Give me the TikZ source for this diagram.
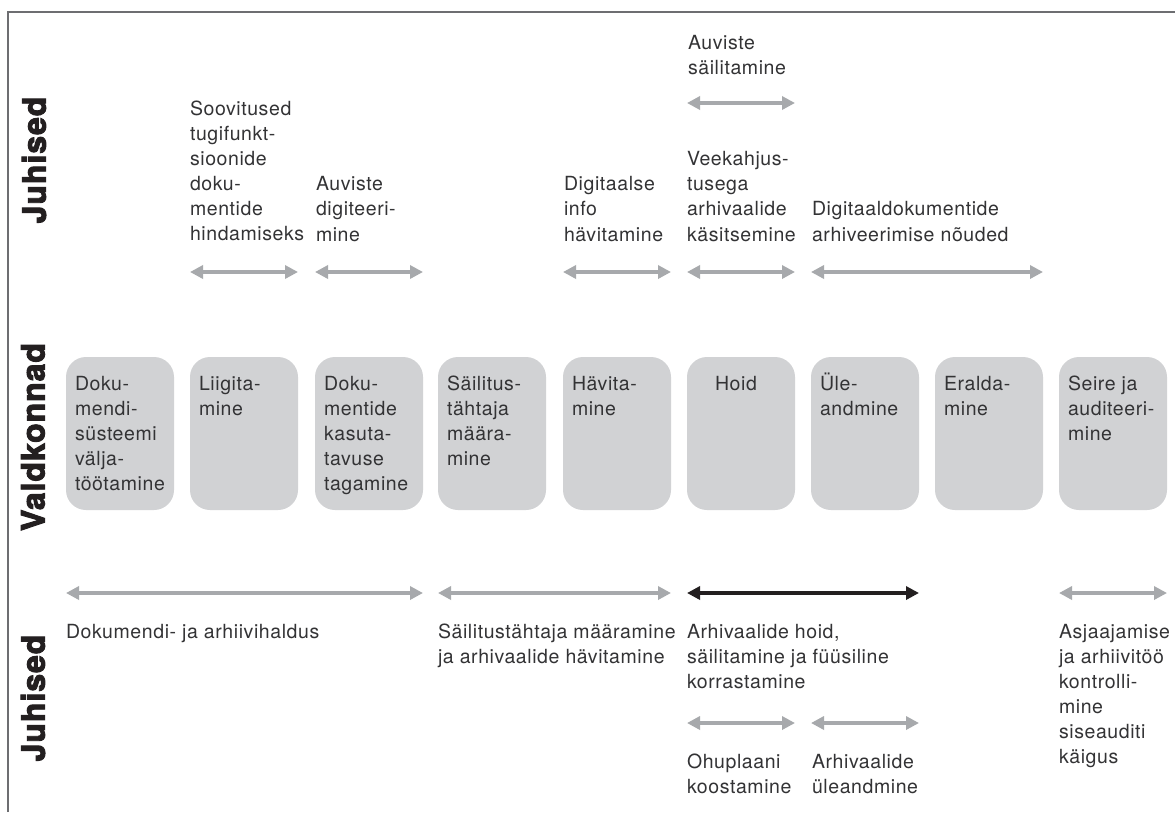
\documentclass[tikz,border=0pt]{standalone}
\usepackage{fontspec}
\setmainfont{TeX Gyre Heros}[LetterSpace=3]
\newfontfamily\sidefont{TeX Gyre Heros}[BoldFeatures={FakeBold=3}, LetterSpace=3]
\usetikzlibrary{arrows.meta,calc}
\definecolor{boxgray}{HTML}{D1D2D4}
\definecolor{arrgray}{HTML}{A7A9AC}
\definecolor{ink}{HTML}{231F20}
\definecolor{txt}{HTML}{333335}
\definecolor{framegray}{HTML}{6D6E71}
\newcommand{\mlines}[1]{\begin{tabular}[t]{@{}l@{}}#1\end{tabular}}
\begin{document}
\begin{tikzpicture}[x=1pt,y=-1pt,
  every node/.style={inner sep=0pt,outer sep=0pt},
  area/.style={fill=boxgray,rounded corners=20pt,minimum width=108pt,minimum height=153pt,anchor=north west},
  lbl/.style={anchor=base west,text=txt,font=\fontsize{19.5}{25.1}\selectfont},
  side/.style={rotate=90,text=ink,font=\fontsize{32}{32}\selectfont\sidefont\bfseries},
  garrow/.style={draw=arrgray,line width=3.5pt,{Triangle[length=13pt,width=13pt]}-{Triangle[length=13pt,width=13pt]}},
  karrow/.style={garrow,draw=ink},
]
\useasboundingbox (0,0) rectangle (1175,812);
\fill[white] (0,0) rectangle (1175,812);
\draw[framegray,line width=1.5pt] (8,812) -- (8,12) -- (1175,12);

% side labels
\node[side] (sj1) at (34,160) {Juhised};
\node[side] (sv) at (33,437) {Valdkonnad};
\node[side] (sj2) at (33,698) {Juhised};

% row coordinates
\coordinate (rowS) at (0,103);
\coordinate (rowA) at (0,272);
\coordinate (rowB) at (0,593);
\coordinate (rowC) at (0,723);

% boxes
\node[area] (b1) at (66,357) {};
\node[area] (b2) at (190,357) {};
\node[area] (b3) at (315,357) {};
\node[area] (b4) at (438,357) {};
\node[area] (b5) at (563,357) {};
\node[area] (b6) at (687,357) {};
\node[area] (b7) at (811,357) {};
\node[area] (b8) at (935,357) {};
\node[area] (b9) at (1059,357) {};

\node[lbl] (t1) at ($(b1.north west)+(9,33)$) {\mlines{Doku-\\mendi-\\süsteemi\\välja-\\töötamine}};
\node[lbl] (t2) at ($(b2.north west)+(9,33)$) {\mlines{Liigita-\\mine}};
\node[lbl] (t3) at ($(b3.north west)+(9,33)$) {\mlines{Doku-\\mentide\\kasuta-\\tavuse\\tagamine}};
\node[lbl] (t4) at ($(b4.north west)+(9,33)$) {\mlines{Säilitus-\\tähtaja\\määra-\\mine}};
\node[lbl] (t5) at ($(b5.north west)+(9,33)$) {\mlines{Hävita-\\mine}};
\node[lbl] (t6) at ($(b6.north west)+(28,33)$) {Hoid};
\node[lbl] (t7) at ($(b7.north west)+(9,33)$) {\mlines{Üle-\\andmine}};
\node[lbl] (t8) at ($(b8.north west)+(9,33)$) {\mlines{Eralda-\\mine}};
\node[lbl] (t9) at ($(b9.north west)+(9,33)$) {\mlines{Seire ja\\auditeeri-\\mine}};

% top guideline texts
\node[lbl] (g0) at (688,49) {\mlines{Auviste\\säilitamine}};
\node[lbl] (g1) at (190,115) {\mlines{Soovitused\\tugifunkt-\\sioonide\\doku-\\mentide\\hindamiseks}};
\node[lbl] (g2) at (316,190.8) {\mlines{Auviste\\digiteeri-\\mine}};
\node[lbl] (g3) at (564,190.8) {\mlines{Digitaalse\\info\\hävitamine}};
\node[lbl] (g4) at (687,165.7) {\mlines{Veekahjus-\\tusega\\arhivaalide\\käsitsemine}};
\node[lbl] (g5) at (812,215.9) {\mlines{Digitaaldokumentide\\arhiveerimise nõuded}};

% top arrows
\draw[garrow] (b6.west |- rowS) -- (b6.east |- rowS);
\draw[garrow] (b2.west |- rowA) -- (b2.east |- rowA);
\draw[garrow] (b3.west |- rowA) -- (b3.east |- rowA);
\draw[garrow] (b5.west |- rowA) -- (b5.east |- rowA);
\draw[garrow] (b6.west |- rowA) -- (b6.east |- rowA);
\draw[garrow] (b7.west |- rowA) -- (b8.east |- rowA);

% bottom arrows
\draw[garrow] (b1.west |- rowB) -- (b3.east |- rowB);
\draw[garrow] (b4.west |- rowB) -- (b5.east |- rowB);
\draw[karrow] (b6.west |- rowB) -- (b7.east |- rowB);
\draw[garrow] (b9.west |- rowB) -- (b9.east |- rowB);
\draw[garrow] (b6.west |- rowC) -- (b6.east |- rowC);
\draw[garrow] (b7.west |- rowC) -- (b7.east |- rowC);

% bottom guideline texts
\node[lbl] (h1) at (66,638) {Dokumendi- ja arhiivihaldus};
\node[lbl] (h2) at (438,638) {\mlines{Säilitustähtaja määramine\\ja arhivaalide hävitamine}};
\node[lbl] (h3) at (687,638) {\mlines{Arhivaalide hoid,\\säilitamine ja füüsiline\\korrastamine}};
\node[lbl] (h4) at (1059,638) {\mlines{Asjaajamise\\ja arhiivitöö\\kontrolli-\\mine\\siseauditi\\käigus}};
\node[lbl] (h5) at (687,768) {\mlines{Ohuplaani\\koostamine}};
\node[lbl] (h6) at (812,768) {\mlines{Arhivaalide\\üleandmine}};
\end{tikzpicture}
\end{document}
